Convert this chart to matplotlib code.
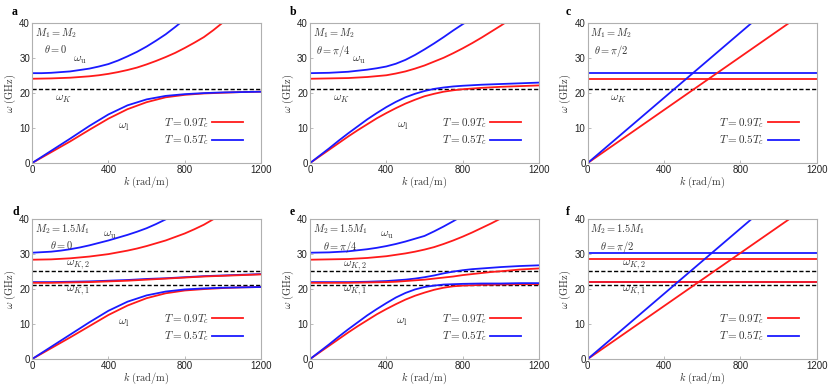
import matplotlib
matplotlib.use('Agg')
import matplotlib.pyplot as plt
import numpy as np

plt.rcParams['mathtext.fontset'] = 'cm'
plt.rcParams['font.family'] = ['Liberation Sans', 'DejaVu Sans']

# k grids (rad/m) used for the read-off curves
k = [0, 100, 200, 300, 400, 500, 600, 700, 800, 900, 1000, 1100, 1200]
k50 = list(range(0, 1201, 50))

# ---- panel a : M1 = M2, theta = 0 ----
a_up_blue_k = [0, 50, 100, 150, 200, 250, 300, 350, 400, 450, 500, 550, 600, 650, 700, 750, 775]
a_up_blue = [25.7, 25.7, 25.8, 26.0, 26.2, 26.6, 27.0, 27.6, 28.3, 29.3, 30.5, 31.8, 33.3, 35.0, 36.8, 38.9, 40.0]
a_up_red_k = [0, 100, 200, 300, 350, 400, 450, 500, 550, 600, 650, 700, 750, 800, 850, 900, 950, 1000]
a_up_red = [24.1, 24.2, 24.4, 24.8, 25.1, 25.5, 26.0, 26.6, 27.3, 28.2, 29.2, 30.3, 31.5, 32.9, 34.4, 36.0, 38.0, 40.2]
a_lo_blue = [0, 3.5, 7.0, 10.6, 13.9, 16.5, 18.2, 19.2, 19.7, 20.0, 20.2, 20.3, 20.4]
a_lo_red = [0, 3.1, 6.2, 9.5, 12.7, 15.4, 17.4, 18.8, 19.5, 19.9, 20.1, 20.3, 20.4]

# ---- panel b : M1 = M2, theta = pi/4 ----
b_up_blue_k = [0, 100, 200, 250, 300, 350, 400, 450, 500, 550, 600, 650, 700, 750, 800, 815]
b_up_blue = [25.7, 25.8, 26.1, 26.4, 26.7, 27.1, 27.6, 28.4, 29.5, 30.9, 32.5, 34.2, 36.0, 37.9, 39.7, 40.2]
b_up_red_k = [0, 200, 300, 400, 450, 500, 550, 600, 650, 700, 750, 800, 850, 900, 950, 1000, 1025]
b_up_red = [24.1, 24.3, 24.6, 25.1, 25.6, 26.2, 27.0, 27.9, 29.0, 30.1, 31.4, 32.8, 34.3, 35.9, 37.6, 39.3, 40.2]
b_lo_blue = [0, 2.1, 4.2, 6.4, 8.5, 10.5, 12.5, 14.3, 16.0, 17.5, 18.8, 19.8, 20.6,
             21.2, 21.6, 21.9, 22.1, 22.25, 22.4, 22.5, 22.6, 22.7, 22.8, 22.9, 23.0]
b_lo_red = [0, 1.9, 3.8, 5.7, 7.6, 9.4, 11.1, 12.8, 14.3, 15.7, 17.0, 18.1, 19.1,
            19.8, 20.4, 20.8, 21.1, 21.3, 21.5, 21.65, 21.8, 21.9, 22.0, 22.1, 22.2]

# ---- panel c : M1 = M2, theta = pi/2 ----
c_lin_blue_k = [0, 858]
c_lin_red_k = [0, 1054]
c_lin_w = [0, 40]
c_flat_blue = 25.7
c_flat_red = 24.1

omega_K = 21.1
omega_K1 = 21.1
omega_K2 = 25.1

# ---- panel d : M2 = 1.5 M1, theta = 0 ----
d_up_blue_k = [0, 100, 150, 200, 250, 300, 350, 400, 450, 500, 550, 600, 650, 710]
d_up_blue = [30.4, 30.7, 31.0, 31.4, 31.9, 32.5, 33.2, 33.9, 34.7, 35.5, 36.4, 37.4, 38.6, 40.2]
d_up_red_k = [0, 100, 200, 300, 400, 450, 500, 550, 600, 650, 700, 750, 800, 850, 900, 960]
d_up_red = [28.4, 28.5, 28.8, 29.3, 30.0, 30.5, 31.0, 31.6, 32.3, 33.1, 33.9, 34.9, 35.9, 37.1, 38.4, 40.3]
d_mid_blue = [22.0, 22.0, 22.1, 22.2, 22.4, 22.6, 22.9, 23.1, 23.4, 23.7, 23.9, 24.1, 24.3]
d_mid_red = [21.8, 21.8, 21.9, 22.0, 22.2, 22.4, 22.7, 23.0, 23.3, 23.6, 23.8, 24.0, 24.2]
d_lo_blue = [0, 3.5, 7.0, 10.5, 13.8, 16.4, 18.2, 19.3, 19.9, 20.2, 20.4, 20.5, 20.6]
d_lo_red = [0, 3.1, 6.2, 9.4, 12.6, 15.3, 17.4, 18.8, 19.6, 20.0, 20.3, 20.5, 20.6]

# ---- panel e : M2 = 1.5 M1, theta = pi/4 ----
e_up_blue_k = [0, 100, 200, 250, 300, 350, 400, 450, 500, 550, 600, 650, 700, 750, 775]
e_up_blue = [30.4, 30.5, 30.8, 31.1, 31.4, 31.8, 32.3, 32.9, 33.6, 34.4, 35.2, 36.5, 37.9, 39.4, 40.2]
e_up_red_k = [0, 100, 200, 300, 400, 450, 500, 550, 600, 650, 700, 750, 800, 850, 900, 950, 1000]
e_up_red = [28.4, 28.5, 28.6, 28.9, 29.4, 29.8, 30.2, 30.7, 31.3, 32.0, 32.9, 33.9, 35.0, 36.2, 37.5, 38.8, 40.2]
e_mid_blue = [22.0, 22.0, 22.0, 22.0, 22.0, 22.05, 22.1, 22.2, 22.3, 22.5, 22.7, 23.0, 23.4,
              23.9, 24.5, 25.0, 25.4, 25.7, 25.9, 26.1, 26.3, 26.45, 26.6, 26.7, 26.8]
e_mid_red = [21.8, 21.8, 21.8, 21.8, 21.8, 21.85, 21.9, 21.95, 22.0, 22.1, 22.3, 22.5, 22.7,
             23.0, 23.3, 23.6, 24.0, 24.3, 24.6, 24.9, 25.1, 25.35, 25.6, 25.75, 25.9]
e_lo_blue = [0, 2.1, 4.2, 6.4, 8.5, 10.5, 12.5, 14.3, 16.0, 17.6, 18.9, 19.9, 20.6,
             21.0, 21.3, 21.4, 21.5, 21.55, 21.6, 21.6, 21.6, 21.65, 21.7, 21.7, 21.7]
e_lo_red = [0, 1.9, 3.8, 5.7, 7.6, 9.4, 11.1, 12.8, 14.3, 15.7, 17.0, 18.1, 19.0,
            19.8, 20.4, 20.8, 21.0, 21.1, 21.2, 21.25, 21.3, 21.35, 21.4, 21.4, 21.4]

# ---- panel f : M2 = 1.5 M1, theta = pi/2 ----
f_lin_blue_k = [0, 858]
f_lin_red_k = [0, 1056]
f_lin_w = [0, 40]
f_flat_blue = [30.4, 22.1]
f_flat_red = [28.5, 21.9]

RED = '#ff1a1a'
BLUE = '#1a1aff'
TXT = '#333333'

fig = plt.figure(figsize=(8.3, 3.92), dpi=100)
lefts = [0.0386, 0.3735, 0.708]
bottoms = [0.584, 0.084]
W, H = 0.276, 0.357
axes = []
for b in bottoms:
    for l in lefts:
        axes.append(fig.add_axes([l, b, W, H]))


def style(ax):
    ax.set_xlim(0, 1200)
    ax.set_ylim(0, 40)
    ax.set_xticks([0, 400, 800, 1200])
    ax.set_yticks([0, 10, 20, 30, 40])
    for s in ax.spines.values():
        s.set_color('#b0b0b0')
        s.set_linewidth(0.8)
    ax.tick_params(direction='in', length=2, width=0.6, color='#b0b0b0',
                   labelsize=7, labelcolor='#222222', pad=1.5)
    ax.set_xlabel(r'$k\ \mathrm{(rad/m)}$', fontsize=7.5, color=TXT, labelpad=0)
    ax.set_ylabel(r'$\omega\ \mathrm{(GHz)}$', fontsize=7.5, color=TXT, labelpad=1)


def dashed(ax, w):
    ax.axhline(w, color='black', lw=1.0, ls=(0, (3, 1.6)), zorder=1)


def legend(ax):
    ax.plot([], [], color=RED, lw=1.3, label=r'$T=0.9T_c$')
    ax.plot([], [], color=BLUE, lw=1.3, label=r'$T=0.5T_c$')
    ax.legend(loc='lower right', bbox_to_anchor=(0.965, 0.04), frameon=False,
              markerfirst=False, fontsize=8, handlelength=2.8,
              handletextpad=0.3, labelspacing=0.3, labelcolor=TXT)


def note(ax, s):
    ax.text(0.012, 0.975, s, transform=ax.transAxes, ha='left', va='top',
            multialignment='center', fontsize=7.5, color=TXT, linespacing=1.25)


def lab(ax, x, y, s):
    ax.text(x, y, s, fontsize=8.5, color=TXT, ha='center', va='center')


lw = 1.3
ax = axes[0]
dashed(ax, omega_K)
ax.plot(a_up_red_k, a_up_red, color=RED, lw=lw)
ax.plot(a_up_blue_k, a_up_blue, color=BLUE, lw=lw)
ax.plot(k, a_lo_red, color=RED, lw=lw)
ax.plot(k, a_lo_blue, color=BLUE, lw=lw)
note(ax, '$M_1=M_2$\n$\\theta=0$')
lab(ax, 250, 29.6, r'$\omega_\mathrm{u}$')
lab(ax, 163, 18.4, r'$\omega_K$')
lab(ax, 478, 10.4, r'$\omega_\mathrm{l}$')

ax = axes[1]
dashed(ax, omega_K)
ax.plot(b_up_red_k, b_up_red, color=RED, lw=lw)
ax.plot(b_up_blue_k, b_up_blue, color=BLUE, lw=lw)
ax.plot(k50, b_lo_red, color=RED, lw=lw)
ax.plot(k50, b_lo_blue, color=BLUE, lw=lw)
note(ax, '$M_1=M_2$\n$\\theta=\\pi/4$')
lab(ax, 254, 29.4, r'$\omega_\mathrm{u}$')
lab(ax, 163, 18.3, r'$\omega_K$')
lab(ax, 485, 10.6, r'$\omega_\mathrm{l}$')

ax = axes[2]
dashed(ax, omega_K)
ax.axhline(c_flat_red, color=RED, lw=lw)
ax.axhline(c_flat_blue, color=BLUE, lw=lw)
ax.plot(c_lin_red_k, c_lin_w, color=RED, lw=lw)
ax.plot(c_lin_blue_k, c_lin_w, color=BLUE, lw=lw)
note(ax, '$M_1=M_2$\n$\\theta=\\pi/2$')
lab(ax, 161, 18.3, r'$\omega_K$')

ax = axes[3]
dashed(ax, omega_K2)
dashed(ax, omega_K1)
ax.plot(d_up_red_k, d_up_red, color=RED, lw=lw)
ax.plot(d_up_blue_k, d_up_blue, color=BLUE, lw=lw)
ax.plot(k, d_mid_blue, color=BLUE, lw=lw)
ax.plot(k, d_mid_red, color=RED, lw=lw)
ax.plot(k, d_lo_red, color=RED, lw=lw)
ax.plot(k, d_lo_blue, color=BLUE, lw=lw)
note(ax, '$M_2=1.5M_1$\n$\\theta=0$')
lab(ax, 408, 35.4, r'$\omega_\mathrm{u}$')
lab(ax, 241, 27.0, r'$\omega_{K,2}$')
lab(ax, 241, 19.4, r'$\omega_{K,1}$')
lab(ax, 478, 10.4, r'$\omega_\mathrm{l}$')

ax = axes[4]
dashed(ax, omega_K2)
dashed(ax, omega_K1)
ax.plot(e_up_red_k, e_up_red, color=RED, lw=lw)
ax.plot(e_up_blue_k, e_up_blue, color=BLUE, lw=lw)
ax.plot(k50, e_mid_blue, color=BLUE, lw=lw)
ax.plot(k50, e_mid_red, color=RED, lw=lw)
ax.plot(k50, e_lo_red, color=RED, lw=lw)
ax.plot(k50, e_lo_blue, color=BLUE, lw=lw)
note(ax, '$M_2=1.5M_1$\n$\\theta=\\pi/4$')
lab(ax, 403, 35.4, r'$\omega_\mathrm{u}$')
lab(ax, 236, 26.8, r'$\omega_{K,2}$')
lab(ax, 236, 19.4, r'$\omega_{K,1}$')
lab(ax, 482, 10.6, r'$\omega_\mathrm{l}$')

ax = axes[5]
dashed(ax, omega_K2)
dashed(ax, omega_K1)
for wb, wr in zip(f_flat_blue, f_flat_red):
    ax.axhline(wb, color=BLUE, lw=lw)
    ax.axhline(wr, color=RED, lw=lw)
ax.plot(f_lin_red_k, f_lin_w, color=RED, lw=lw)
ax.plot(f_lin_blue_k, f_lin_w, color=BLUE, lw=lw)
note(ax, '$M_2=1.5M_1$\n$\\theta=\\pi/2$')
lab(ax, 240, 27.0, r'$\omega_{K,2}$')
lab(ax, 240, 19.4, r'$\omega_{K,1}$')

for ax in axes:
    style(ax)
    legend(ax)

labels = ['a', 'b', 'c', 'd', 'e', 'f']
pos_x = [0.0145, 0.349, 0.682]
pos_y = [0.969, 0.459]
for i, lb in enumerate(labels):
    fig.text(pos_x[i % 3], pos_y[i // 3], lb, fontsize=8.5, fontweight='bold',
             family=['Liberation Serif', 'DejaVu Serif'], ha='left', va='center')

fig.savefig('out.png', dpi=100)
